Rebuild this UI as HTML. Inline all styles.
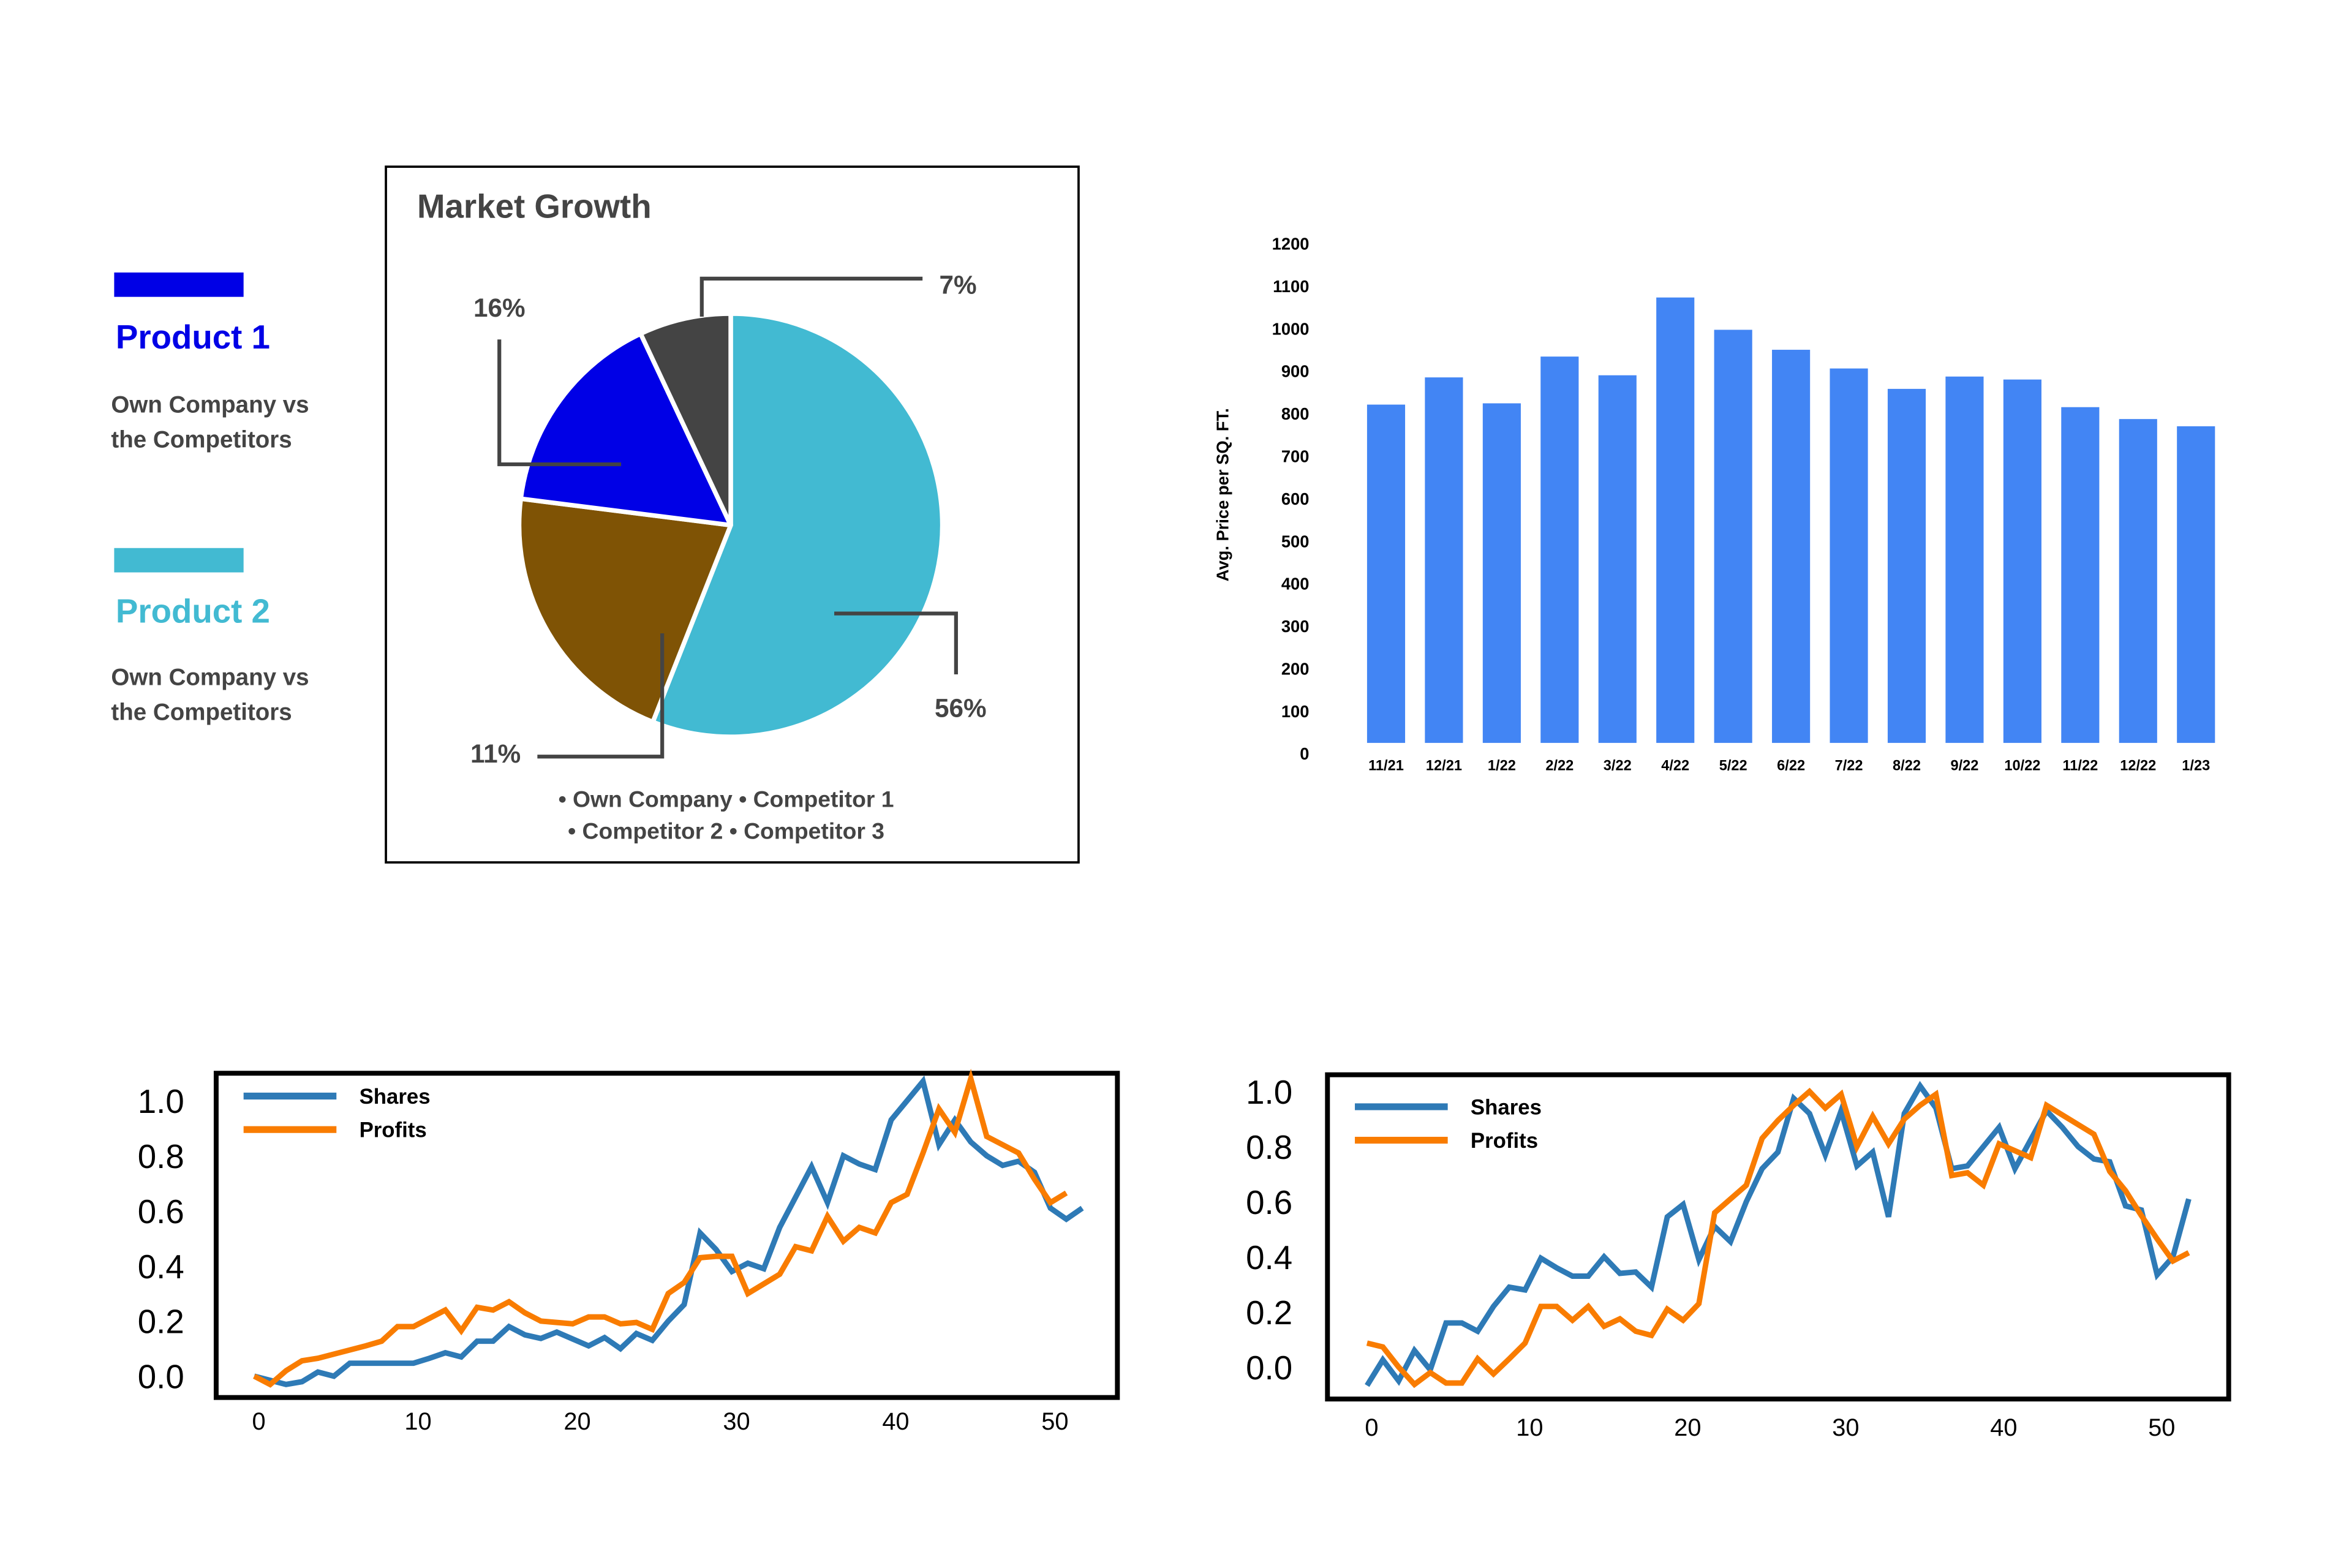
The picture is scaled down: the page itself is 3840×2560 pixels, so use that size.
<!DOCTYPE html>
<html><head><meta charset="utf-8"><style>
html,body{margin:0;padding:0;background:#fff;}
svg{display:block;font-family:"Liberation Sans",sans-serif;}
</style></head><body>
<svg id="root" width="3840" height="2560" viewBox="0 0 1545 1030" xmlns="http://www.w3.org/2000/svg">
<rect x="0" y="0" width="1545" height="1030" fill="#fff"/>
<g font-weight="bold">
  <rect x="75" y="179" width="85" height="16" fill="#0000e6"/>
  <text x="76" y="229" font-size="22" fill="#0000e6">Product 1</text>
  <text x="73" y="271" font-size="15.5" fill="#444">Own Company vs</text>
  <text x="73" y="294" font-size="15.5" fill="#444">the Competitors</text>
  <rect x="75" y="360" width="85" height="16" fill="#42bad2"/>
  <text x="76" y="409" font-size="22" fill="#42bad2">Product 2</text>
  <text x="73" y="450" font-size="15.5" fill="#444">Own Company vs</text>
  <text x="73" y="473" font-size="15.5" fill="#444">the Competitors</text>
</g>
<g>
  <rect x="253.5" y="109.5" width="455" height="457" fill="none" stroke="#000" stroke-width="1.5"/>
  <text x="274" y="143" font-size="22" font-weight="bold" fill="#444">Market Growth</text>
  <g id="pie"></g>
  <g fill="none" stroke="#444" stroke-width="2.5">
    <polyline points="461,208 461,183 606,183"/>
    <polyline points="328,223 328,305 408,305"/>
    <polyline points="548,403 628,403 628,443"/>
    <polyline points="435,416 435,497 353,497"/>
  </g>
  <g font-size="17" font-weight="bold" fill="#444">
    <text x="617" y="193">7%</text>
    <text x="311" y="208">16%</text>
    <text x="614" y="471">56%</text>
    <text x="309" y="501">11%</text>
  </g>
  <g font-size="15" font-weight="bold" fill="#444" text-anchor="middle">
    <text x="477" y="530">• Own Company • Competitor 1</text>
    <text x="477" y="551">• Competitor 2 • Competitor 3</text>
  </g>
</g>
<g id="bars"></g>
<g id="lineL"></g>
<g id="lineR"></g>
</svg>
<script>
const pieLabels = ["Own Company","Competitor 1","Competitor 2","Competitor 3"];
const pieValues = [56,21,16,7];
const pieColors = ["#42bad2","#7f5305","#0000e6","#444444"];

const barCategories = ["11/21","12/21","1/22","2/22","3/22","4/22","5/22","6/22","7/22","8/22","9/22","10/22","11/22","12/22","1/23"];
const barValues = [821,885,824,934,890,1073,997,950,906,858,887,880,815,787,770];
const barTicks = [0,100,200,300,400,500,600,700,800,900,1000,1100,1200];

const lineTicksY = [0,0.2,0.4,0.6,0.8,1.0];
const lineTicksX = [0,10,20,30,40,50];
const sharesLeft = [0.0,-0.015,-0.03,-0.02,0.015,0.0,0.047,0.047,0.047,0.047,0.047,0.065,0.085,0.07,0.127,0.127,0.18,0.15,0.137,0.16,0.135,0.11,0.14,0.1,0.155,0.13,0.2,0.26,0.52,0.46,0.38,0.41,0.39,0.54,0.65,0.76,0.63,0.8,0.77,0.75,0.93,1.0,1.07,0.84,0.93,0.85,0.8,0.765,0.78,0.74,0.61,0.57,0.61];
const profitsLeft = [0.0,-0.03,0.02,0.056,0.065,0.08,0.095,0.11,0.127,0.18,0.18,0.21,0.24,0.165,0.25,0.24,0.27,0.23,0.2,0.195,0.19,0.215,0.215,0.19,0.195,0.17,0.3,0.34,0.43,0.435,0.435,0.3,0.335,0.37,0.47,0.455,0.58,0.49,0.54,0.52,0.63,0.66,0.81,0.97,0.885,1.08,0.87,0.84,0.81,0.715,0.63,0.665];
const sharesRight = [-0.067,0.026,-0.05,0.06,-0.01,0.16,0.16,0.13,0.22,0.29,0.28,0.395,0.36,0.33,0.33,0.4,0.34,0.345,0.29,0.545,0.59,0.39,0.51,0.455,0.6,0.72,0.78,0.975,0.92,0.77,0.93,0.73,0.78,0.545,0.92,1.02,0.94,0.72,0.73,0.8,0.87,0.72,0.825,0.93,0.87,0.8,0.755,0.745,0.585,0.57,0.335,0.4,0.61];
const profitsRight = [0.087,0.073,0.0,-0.063,-0.02,-0.058,-0.058,0.03,-0.025,0.03,0.087,0.22,0.22,0.17,0.22,0.148,0.175,0.13,0.115,0.21,0.17,0.23,0.56,0.61,0.66,0.83,0.895,0.95,1.0,0.94,0.99,0.8,0.91,0.81,0.9,0.95,0.99,0.695,0.705,0.66,0.81,0.785,0.76,0.95,0.915,0.88,0.845,0.71,0.64,0.55,0.465,0.385,0.415];

const NS = "http://www.w3.org/2000/svg";
function mk(tag, parent, attrs){const e=document.createElementNS(NS,tag);for(const k in attrs)e.setAttribute(k,attrs[k]);parent.appendChild(e);return e;}

// Pie
(function(){
  const g=document.getElementById('pie');
  const cx=480, cy=345, r=139;
  const total=pieValues.reduce((a,b)=>a+b,0);
  let a0=0;
  pieValues.forEach((v,i)=>{
    const a1=a0+v/total*Math.PI*2;
    const p0=[cx+r*Math.sin(a0),cy-r*Math.cos(a0)], p1=[cx+r*Math.sin(a1),cy-r*Math.cos(a1)];
    const large=(a1-a0)>Math.PI?1:0;
    const p=mk('path',g,{d:`M${cx},${cy} L${p0[0]},${p0[1]} A${r},${r} 0 ${large} 1 ${p1[0]},${p1[1]} Z`,fill:pieColors[i],stroke:'#fff','stroke-width':3,'stroke-linejoin':'round'});
    
    
    a0=a1;
  });
})();

// Bars
(function(){
  const g=document.getElementById('bars');
  const y=v=>495-v*0.2792;
  const x=i=>910.5+i*38.0;
  const bw=25, base=488;
  barTicks.forEach(t=>{
    const tx=mk('text',g,{x:860,y:y(t)+4,'font-size':11,'font-weight':'bold','text-anchor':'end',fill:'#000'});
    tx.textContent=t;
    
    
  });
  barValues.forEach((v,i)=>{
    const r=mk('rect',g,{x:x(i)-bw/2,y:y(v),width:bw,height:base-y(v),fill:'#4285f4'});
    
    
    const t=mk('text',g,{x:x(i),y:506,'font-size':9.5,'font-weight':'bold','text-anchor':'middle',fill:'#000'});
    t.textContent=barCategories[i];
    
    
  });
  const at=mk('text',g,{x:0,y:0,'font-size':11,'font-weight':'bold','text-anchor':'middle',fill:'#000',transform:'translate(807,325) rotate(-90)'});
  at.textContent='Avg. Price per SQ. FT.';
  
  
})();

// Line charts
function lineChart(id, box, x0, step, y0, labelX, tickY, shares, profits, legY){
  const g=document.getElementById(id);
  const x=i=>x0+i*step;
  const y=v=>y0-v*181;
  const fr=mk('rect',g,{x:box[0],y:box[1],width:box[2],height:box[3],fill:'#fff',stroke:'#000','stroke-width':3.2});
  
  
  lineTicksY.forEach(t=>{
    const tx=mk('text',g,{x:labelX,y:y(t)+8,'font-size':22,'text-anchor':'end',fill:'#000'});
    tx.textContent=t.toFixed(1);
    
    
  });
  lineTicksX.forEach(t=>{
    const tx=mk('text',g,{x:x(t)+3,y:tickY,'font-size':16,'text-anchor':'middle',fill:'#000'});
    tx.textContent=t;
    
    
  });
  const ps=mk('polyline',g,{points:shares.map((v,i)=>x(i)+','+y(v)).join(' '),fill:'none',stroke:'#2e7ab6','stroke-width':3.6,'stroke-linejoin':'miter'});
  
  
  const pp=mk('polyline',g,{points:profits.map((v,i)=>x(i)+','+y(v)).join(' '),fill:'none',stroke:'#f97c00','stroke-width':3.6,'stroke-linejoin':'miter'});
  
  
  // legend
  const lx=box[0]+18;
  const l1=mk('line',g,{x1:lx,y1:legY,x2:lx+61,y2:legY,stroke:'#2e7ab6','stroke-width':4.5});
  
  
  const t1=mk('text',g,{x:lx+76,y:legY+5,'font-size':14,'font-weight':'bold',fill:'#000'});
  t1.textContent='Shares';
  
  
  const l2=mk('line',g,{x1:lx,y1:legY+22,x2:lx+61,y2:legY+22,stroke:'#f97c00','stroke-width':4.5});
  
  
  const t2=mk('text',g,{x:lx+76,y:legY+27,'font-size':14,'font-weight':'bold',fill:'#000'});
  t2.textContent='Profits';
  
  
}
lineChart('lineL',[142,705,592,213],167,10.46,904,121,939,sharesLeft,profitsLeft,720);
lineChart('lineR',[872,706,592,213],898,10.38,898,849,943,sharesRight,profitsRight,727);
</script>
</body></html>
